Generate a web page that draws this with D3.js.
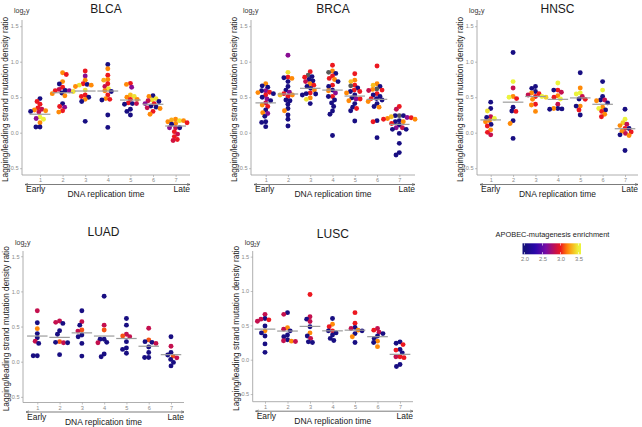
<!DOCTYPE html>
<html><head><meta charset="utf-8">
<script src="https://cdn.jsdelivr.net/npm/d3@7"></script>
<style>body{margin:0;background:#fff}svg{display:block;font-family:"Liberation Sans",Arial,sans-serif}</style>
</head><body><svg id="c" width="642" height="427"></svg>
<script>
// ---------- data ----------
const bins = ["1","2","3","4","5","6","7"];
const yTicks = [-0.5, 0, 0.5, 1.0, 1.5];
const legendTicks = [2.0, 2.5, 3.0, 3.5];
const legendTitle = "APOBEC-mutagenesis enrichment";
const colorStopValues = [2.0, 2.3, 2.6, 2.85, 3.0, 3.2, 3.5];
const colorStops = ["#14107a", "#2a06ac", "#7a0ca4", "#c4104e", "#ec1820", "#ff8a08", "#ecf43c"];

// each point: [log2 ratio, APOBEC enrichment (null = not available)]
const blca = [
 [[0.48,2.05],[0.44,3.0],[0.40,3.0],[0.35,3.0],[0.33,2.85],[0.32,3.2],[0.31,3.2],[0.30,2.05],[0.29,2.85],[0.22,3.5],[0.20,2.65],[0.19,3.5],[0.14,3.2],[0.08,2.05],[0.08,2.05]],
 [[0.845,3.2],[0.82,3.0],[0.72,3.2],[0.685,2.05],[0.64,3.0],[0.61,2.85],[0.595,2.05],[0.59,2.65],[0.59,3.0],[0.58,3.45],[0.56,2.05],[0.55,3.2],[0.52,3.2],[0.41,2.05],[0.37,3.0],[0.36,2.65],[0.31,3.0],[0.29,3.2]],
 [[0.87,3.0],[0.80,2.65],[0.74,3.2],[0.69,3.0],[0.68,2.05],[0.67,3.45],[0.67,3.2],[0.65,3.2],[0.60,3.45],[0.53,3.0],[0.51,3.0],[0.50,2.05],[0.47,3.2],[0.44,2.05],[0.16,2.05]],
 [[0.96,2.05],[0.90,3.2],[0.81,3.0],[0.75,3.2],[0.74,3.3],[0.69,3.0],[0.65,2.85],[0.62,3.45],[0.59,3.2],[0.58,2.05],[0.53,3.0],[0.48,3.2],[0.47,3.0],[0.46,2.05],[0.25,2.05],[0.075,2.05]],
 [[0.695,3.0],[0.68,3.2],[0.64,2.65],[0.53,3.35],[0.51,3.45],[0.50,3.2],[0.47,3.0],[0.47,3.2],[0.42,3.0],[0.41,2.05],[0.41,2.85],[0.40,2.05],[0.33,2.05],[0.30,2.05],[0.25,2.05]],
 [[0.52,2.05],[0.51,3.2],[0.48,3.45],[0.46,3.45],[0.45,2.85],[0.44,2.05],[0.41,3.0],[0.41,2.65],[0.375,2.05],[0.36,2.05],[0.35,2.85],[0.34,3.2],[0.30,3.0],[0.26,3.2]],
 [[0.19,3.2],[0.18,3.3],[0.17,3.45],[0.17,3.2],[0.155,3.2],[0.14,3.0],[0.13,3.2],[0.12,2.05],[0.07,2.85],[0.07,2.05],[0.07,2.65],[0.015,3.0],[-0.02,2.85],[-0.055,3.0],[-0.095,3.0],[-0.11,2.9]]
];
const blcaMedian = [0.26, 0.563, 0.587, 0.587, 0.46, 0.40, 0.094];

const brca = [
 [[0.69,3.2],[0.66,2.05],[0.64,2.05],[0.59,2.65],[0.59,2.05],[0.57,3.0],[0.565,3.2],[0.55,2.05],[0.53,3.0],[0.50,2.05],[0.475,2.65],[0.45,2.05],[0.42,2.85],[0.39,3.2],[0.37,3.0],[0.32,2.05],[0.28,3.2],[0.27,2.65],[0.23,2.05],[0.155,2.05],[0.145,2.05],[0.085,2.05]],
 [[1.09,2.65],[0.85,3.45],[0.78,3.0],[0.775,2.05],[0.765,3.2],[0.72,2.05],[0.65,2.05],[0.60,2.05],[0.57,2.65],[0.55,3.0],[0.53,3.2],[0.53,3.35],[0.51,3.0],[0.46,2.05],[0.45,2.05],[0.40,2.05],[0.34,2.05],[0.31,3.2],[0.25,2.05],[0.19,2.05],[0.094,2.05]],
 [[0.86,3.0],[0.81,null],[0.79,2.05],[0.78,3.0],[0.75,2.05],[0.73,2.05],[0.72,2.85],[0.69,3.2],[0.67,3.0],[0.65,2.05],[0.625,2.05],[0.60,3.2],[0.56,3.0],[0.55,2.05],[0.545,2.05],[0.53,2.05],[0.49,3.2],[0.47,3.45],[0.41,2.05]],
 [[0.95,3.0],[0.87,3.2],[0.85,null],[0.835,2.05],[0.80,3.0],[0.765,3.0],[0.75,3.2],[0.72,2.05],[0.67,3.0],[0.65,2.05],[0.60,2.05],[0.59,3.2],[0.56,2.65],[0.51,3.0],[0.51,2.05],[0.46,2.05],[0.42,2.05],[0.37,2.05],[0.305,2.05],[0.26,2.05],[-0.04,2.05]],
 [[0.83,3.0],[0.74,3.2],[0.72,3.35],[0.66,null],[0.67,3.0],[0.63,2.05],[0.60,3.0],[0.58,2.05],[0.58,3.0],[0.56,3.2],[0.53,2.05],[0.49,2.05],[0.475,2.65],[0.475,3.0],[0.45,3.2],[0.41,2.05],[0.36,2.05],[0.34,3.0],[0.31,2.05],[0.165,2.05]],
 [[0.94,3.0],[0.69,3.2],[0.67,3.35],[0.65,2.05],[0.615,null],[0.61,3.2],[0.60,3.0],[0.595,2.85],[0.55,3.0],[0.53,2.05],[0.51,2.05],[0.48,2.05],[0.48,3.0],[0.46,2.05],[0.44,3.2],[0.41,2.05],[0.37,2.05],[0.36,3.2],[0.17,2.05],[0.155,3.0],[-0.07,2.05]],
 [[0.37,3.0],[0.33,2.85],[0.24,null],[0.24,2.05],[0.24,2.05],[0.225,3.35],[0.215,2.65],[0.21,3.0],[0.20,3.2],[0.19,3.2],[0.19,3.0],[0.17,2.05],[0.155,2.05],[0.155,3.2],[0.13,3.0],[0.108,2.05],[0.07,2.65],[0.07,2.85],[0.047,2.05],[0.047,2.05],[-0.01,2.05],[-0.15,2.05],[-0.28,2.05],[-0.315,2.05]]
];
const brcaMedian = [0.42, 0.545, 0.625, 0.60, 0.516, 0.47, 0.117];

const hnsc = [
 [[0.43,2.05],[0.34,2.05],[0.305,3.45],[0.225,2.85],[0.215,2.05],[0.20,3.5],[0.17,3.2],[0.155,3.2],[0.117,2.05],[0.094,3.0],[0.04,3.2],[0.005,3.0],[-0.03,2.85]],
 [[1.13,2.05],[0.72,3.5],[0.63,2.85],[0.50,3.5],[0.51,3.2],[0.48,3.0],[0.36,2.05],[0.305,2.05],[0.30,3.0],[0.17,2.05],[0.13,3.2],[-0.08,2.05]],
 [[0.65,2.05],[0.625,2.05],[0.58,2.05],[0.56,3.2],[0.55,3.0],[0.53,2.85],[0.51,3.0],[0.51,3.5],[0.50,3.4],[0.47,3.2],[0.40,3.0],[0.39,3.2],[0.30,3.2]],
 [[0.70,3.5],[0.60,3.0],[0.60,2.05],[0.57,2.85],[0.52,3.2],[0.50,3.0],[0.475,3.5],[0.40,2.85],[0.34,2.05],[0.34,3.2],[0.335,2.05],[0.33,2.05]],
 [[0.845,2.05],[0.63,3.2],[0.56,3.5],[0.545,3.5],[0.51,2.85],[0.47,3.0],[0.475,2.05],[0.375,3.2],[0.375,2.05],[0.32,3.0],[0.25,2.05]],
 [[0.72,2.05],[0.60,3.5],[0.51,2.05],[0.46,2.05],[0.46,2.85],[0.45,3.2],[0.42,2.05],[0.36,3.2],[0.34,3.5],[0.32,2.05],[0.30,3.0],[0.26,3.2],[0.225,3.0]],
 [[0.33,2.05],[0.19,3.5],[0.14,3.4],[0.12,2.85],[0.10,3.2],[0.06,3.0],[0.06,2.05],[0.02,3.2],[0.01,3.0],[-0.01,2.85],[-0.03,2.05],[-0.04,3.2],[-0.25,2.05]]
];
const hnscMedian = [0.18, 0.43, 0.51, 0.47, 0.49, 0.40, 0.056];

const luad = [
 [[0.725,2.85],[0.555,2.05],[0.47,3.2],[0.40,2.05],[0.34,2.05],[0.29,2.85],[0.26,2.05],[0.085,2.05],[0.085,2.05]],
 [[0.58,2.85],[0.56,2.85],[0.545,2.05],[0.44,2.05],[0.39,2.05],[0.285,3.1],[0.275,2.05],[0.27,2.85],[0.27,2.05],[0.10,2.05]],
 [[0.725,2.05],[0.57,2.85],[0.52,2.05],[0.45,3.1],[0.435,2.85],[0.38,2.05],[0.355,2.05],[0.26,2.05],[0.08,2.05]],
 [[0.93,2.05],[0.52,2.85],[0.45,3.1],[0.32,2.05],[0.32,2.05],[0.275,2.05],[0.27,2.85],[0.11,2.05],[0.07,2.05]],
 [[0.615,2.05],[0.52,2.05],[0.39,2.85],[0.365,3.1],[0.355,2.85],[0.285,2.05],[0.195,2.05],[0.175,2.05],[0.12,2.05]],
 [[0.475,2.85],[0.31,3.1],[0.285,2.05],[0.275,2.05],[0.26,2.85],[0.21,2.05],[0.13,2.05],[0.06,2.05],[0.06,2.05]],
 [[0.355,2.05],[0.22,2.85],[0.13,2.05],[0.095,2.05],[0.08,3.1],[0.055,2.85],[0.033,2.05],[-0.01,2.05],[-0.06,2.05]]
];
const luadMedian = [0.365, 0.346, 0.41, 0.365, 0.33, 0.22, 0.10];

const lusc = [
 [[0.66,2.85],[0.60,2.05],[0.59,2.85],[0.58,3.0],[0.56,2.85],[0.49,2.05],[0.42,3.2],[0.39,2.05],[0.345,2.05],[0.23,2.05],[0.107,2.05]],
 [[0.685,2.05],[0.66,2.85],[0.465,3.2],[0.445,2.85],[0.42,2.05],[0.36,2.05],[0.335,2.05],[0.29,2.05],[0.275,2.85],[0.27,3.2],[0.265,2.85]],
 [[0.95,3.0],[0.625,2.85],[0.59,2.05],[0.555,2.85],[0.48,2.05],[0.39,3.2],[0.345,2.05],[0.31,2.85],[0.26,2.05],[0.25,2.05]],
 [[0.60,2.05],[0.515,3.2],[0.48,3.0],[0.42,3.0],[0.42,2.05],[0.39,2.05],[0.36,2.05],[0.31,2.05],[0.28,2.05]],
 [[0.685,3.0],[0.53,3.0],[0.47,2.05],[0.455,2.85],[0.43,3.2],[0.42,2.05],[0.38,2.05],[0.335,3.2],[0.25,2.05]],
 [[0.455,2.85],[0.43,3.0],[0.40,2.85],[0.38,2.05],[0.345,2.05],[0.31,2.05],[0.27,3.2],[0.25,2.05],[0.19,3.2]],
 [[0.26,2.05],[0.24,2.05],[0.22,3.0],[0.15,2.05],[0.14,3.0],[0.10,2.05],[0.044,3.0],[0.044,2.85],[0.03,3.0],[-0.07,2.05],[-0.10,2.05]]
];
const luscMedian = [0.445, 0.417, 0.485, 0.42, 0.43, 0.335, 0.078];

// ---------- layout ----------
const panels = [
 {name:"BLCA", pts:blca, med:blcaMedian, x0:22,  x1:190, c1:40,    c7:175.6, top:20,  bottom:175,   y0:132.7, ppu:71,   titleY:13,  logY:13},
 {name:"BRCA", pts:brca, med:brcaMedian, x0:251, x1:415, c1:265.7, c7:399.3, top:20,  bottom:175,   y0:132.7, ppu:71,   titleY:13,  logY:13},
 {name:"HNSC", pts:hnsc, med:hnscMedian, x0:477, x1:638, c1:490.7, c7:625,   top:20,  bottom:175,   y0:132.7, ppu:71,   titleY:13,  logY:13},
 {name:"LUAD", pts:luad, med:luadMedian, x0:23,  x1:184, c1:37.3,  c7:171,   top:251, bottom:402.5, y0:361.7, ppu:70.3, titleY:236, logY:245},
 {name:"LUSC", pts:lusc, med:luscMedian, x0:252.7,x1:413, c1:265,  c7:400,   top:251, bottom:401.7, y0:359.7, ppu:68.7, titleY:238, logY:245}
];

const svg = d3.select("#c");
const color = d3.scaleLinear().domain(colorStopValues).range(colorStops).interpolate(d3.interpolateRgb).clamp(true);
const R = 2.45;

svg.append("defs").append("marker").attr("id","arr").attr("viewBox","0 0 10 10")
  .attr("refX",9).attr("refY",5).attr("markerWidth",5).attr("markerHeight",5)
  .attr("orient","auto-start-reverse").append("path").attr("d","M0,1.5L10,5L0,8.5").attr("fill","none").attr("stroke","#444").attr("stroke-width",1.4);

function beeswarm(list, x0, y){
  // deterministic, overlapping beeswarm: place points, ordered by value, at the free offset nearest the centre
  const order = list.map((d,i)=>({d, py:y(d[0]), i})).sort((a,b)=>b.d[0]-a.d[0]);
  const placed = [];
  const D = 4.1;
  for(const p of order){
    const forb = [];
    for(const q of placed){
      const dy = Math.abs(q.py - p.py);
      if(dy < D){ const w = Math.sqrt(D*D - dy*dy); forb.push([q.px - w, q.px + w]); }
    }
    const cands = [x0];
    forb.forEach(f=>{cands.push(f[0], f[1]);});
    cands.sort((a,b)=>Math.abs(a-x0)-Math.abs(b-x0) || a-b);
    let best = x0;
    for(const c of cands){
      if(!forb.some(f=> c > f[0]+1e-6 && c < f[1]-1e-6)){ best = c; break; }
    }
    p.px = best; placed.push(p);
  }
  return placed;
}

panels.forEach(P=>{
  const g = svg.append("g");
  const x = d3.scalePoint().domain(bins).range([P.c1, P.c7]);
  const yMin = (P.y0 - P.bottom)/P.ppu, yMax = (P.y0 - P.top)/P.ppu;
  const y = d3.scaleLinear().domain([yMin, yMax]).range([P.bottom, P.top]);
  const step = x.step();

  // axes
  const ya = g.append("g").attr("transform",`translate(${P.x0},0)`)
    .call(d3.axisLeft(y).tickValues(yTicks).tickSize(2).tickPadding(1.5).tickFormat(d3.format(".1f")));
  const xa = g.append("g").attr("transform",`translate(0,${P.bottom})`)
    .call(d3.axisBottom(x).tickSize(2).tickPadding(1.5));
  ya.select(".domain").attr("d",`M0,${P.top}V${P.bottom}`);
  xa.select(".domain").attr("d",`M${P.x0},0H${P.x1}`);
  [ya,xa].forEach(a=>{
    a.selectAll(".domain").attr("stroke","#9a9a9a").attr("stroke-width",0.8);
    a.selectAll(".tick line").attr("stroke","#9a9a9a").attr("stroke-width",0.6);
    a.selectAll(".tick text").attr("fill","#8a8a8a").style("font-size","5.6px").style("font-family","'Liberation Sans',Arial,sans-serif");
  });

  // points
  P.pts.forEach((list, ci)=>{
    const cx = x(bins[ci]);
    const placed = beeswarm(list, cx, y);
    g.selectAll(null).data(placed).enter().append("circle")
      .attr("cx",d=>d.px).attr("cy",d=>d.py).attr("r",R)
      .attr("fill",d=> d.d[1]==null ? "#5a5a5a" : color(d.d[1]));
  });
  // medians
  g.selectAll(null).data(P.med).enter().append("line")
    .attr("x1",(d,i)=>x(bins[i]) - step*0.46).attr("x2",(d,i)=>x(bins[i]) + step*0.46)
    .attr("y1",d=>y(d)).attr("y2",d=>y(d))
    .attr("stroke","#9c9c9c").attr("stroke-width",1.2);

  // titles
  const mid = (P.x0 + P.x1)/2;
  g.append("text").attr("x",mid).attr("y",P.titleY).attr("text-anchor","middle")
    .style("font-size","12px").attr("fill","#1a1a1a").text(P.name);
  const lg = g.append("text").attr("x",P.x0-8).attr("y",P.logY).style("font-size","7px").attr("fill","#333");
  lg.append("tspan").text("log");
  lg.append("tspan").attr("dy",2).style("font-size","4.6px").text("2");
  lg.append("tspan").attr("dy",-2).text("y");
  g.append("text").attr("transform",`translate(${P.x0-14},${(P.top+P.bottom)/2+2}) rotate(-90)`)
    .attr("text-anchor","middle").style("font-size","8.3px").attr("fill","#1a1a1a")
    .text("Lagging/leading strand mutation density ratio");
  // replication-time arrow and labels
  const ay = P.bottom + 9.5;
  g.append("line").attr("x1",P.x0+3).attr("x2",P.x1).attr("y1",ay).attr("y2",ay)
    .attr("stroke","#444").attr("stroke-width",0.7)
    .attr("marker-start","url(#arr)").attr("marker-end","url(#arr)");
  g.append("text").attr("x",P.x0+4).attr("y",ay+7.5).style("font-size","8.5px").attr("fill","#1a1a1a").text("Early");
  g.append("text").attr("x",P.x1).attr("y",ay+7.5).attr("text-anchor","end").style("font-size","8.5px").attr("fill","#1a1a1a").text("Late");
  g.append("text").attr("x",mid).attr("y",ay+12.5).attr("text-anchor","middle").style("font-size","8.5px").attr("fill","#1a1a1a").text("DNA replication time");
});

// ---------- legend ----------
const lx = d3.scaleLinear().domain([2.0,3.5]).range([524.5,578.5]);
const leg = svg.append("g");
leg.append("text").attr("x",552.5).attr("y",237).attr("text-anchor","middle")
  .style("font-size","7.4px").attr("fill","#1a1a1a").text(legendTitle);
const grad = svg.select("defs").append("linearGradient").attr("id","lgrad")
  .attr("gradientUnits","userSpaceOnUse").attr("x1",522.5).attr("x2",581).attr("y1",0).attr("y2",0);
d3.range(0,1.0001,0.05).forEach(t=>{
  const xv = 522.5 + t*(581-522.5);
  grad.append("stop").attr("offset",t).attr("stop-color",color(lx.invert(xv)));
});
leg.append("rect").attr("x",522.5).attr("y",243.3).attr("width",58.5).attr("height",11).attr("fill","url(#lgrad)");
const la = leg.append("g").attr("transform","translate(0,254.3)")
  .call(d3.axisBottom(lx).tickValues(legendTicks).tickSize(0).tickPadding(3).tickFormat(d3.format(".1f")));
la.select(".domain").remove();
la.selectAll(".tick text").attr("fill","#7a7a7a").style("font-size","5.8px").style("font-family","'Liberation Sans',Arial,sans-serif");
leg.selectAll(null).data(legendTicks).enter().append("g").each(function(v){
  const s = d3.select(this);
  s.append("line").attr("x1",lx(v)).attr("x2",lx(v)).attr("y1",243.3).attr("y2",245.5).attr("stroke","#fff").attr("stroke-width",0.6);
  s.append("line").attr("x1",lx(v)).attr("x2",lx(v)).attr("y1",252.1).attr("y2",254.3).attr("stroke","#fff").attr("stroke-width",0.6);
});
</script></body></html>
